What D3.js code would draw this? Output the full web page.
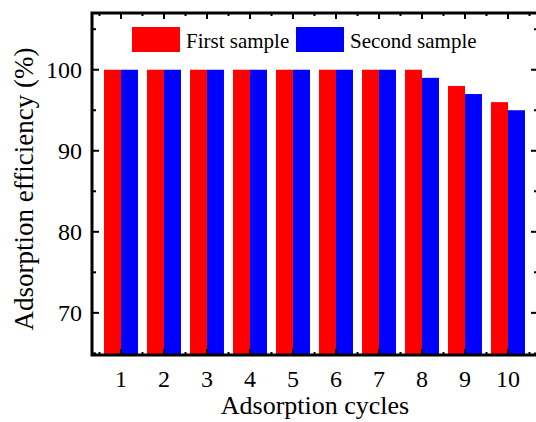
<!DOCTYPE html>
<html lang="en">
<head>
  <meta charset="UTF-8">
  <title>Adsorption cycles</title>
  <style>
    body { margin: 0; background: #fff; }
    svg { display: block; font-family: "Liberation Serif", "Times New Roman", serif; }
  </style>
</head>
<body>
  <div id="chart"></div>
  <script src="https://d3js.org/d3.v7.min.js"></script>
  <script>
    // data
    const cycles = ["1", "2", "3", "4", "5", "6", "7", "8", "9", "10"];
    const firstSample = [100, 100, 100, 100, 100, 100, 100, 100, 98, 96];
    const secondSample = [100, 100, 100, 100, 100, 100, 100, 99, 97, 95];
    const seriesNames = ["First sample", "Second sample"];
    const seriesColors = ["#ff0000", "#0000ff"];
    const yTicks = [70, 80, 90, 100];
    const yMinorTicks = [65, 75, 85, 95, 105];

    const width = 536, height = 422;
    const plotL = 92, plotR = 538, plotT = 13, plotB = 355;

    const svg = d3.select("#chart").append("svg")
      .attr("width", width)
      .attr("height", height);

    const x = d3.scaleBand()
      .domain(cycles)
      .range([99.5, 529.5])
      .paddingInner(0.21)
      .paddingOuter(0.105);

    const xSub = d3.scaleBand()
      .domain([0, 1])
      .range([0, x.bandwidth()]);

    const y = d3.scaleLinear()
      .domain([64.8, 107])
      .range([plotB, plotT]);

    // bars
    const groups = svg.selectAll(".group")
      .data(cycles)
      .enter()
      .append("g")
      .attr("transform", d => `translate(${x(d)},0)`);

    groups.each(function(c, i) {
      const vals = [firstSample[i], secondSample[i]];
      d3.select(this).selectAll("rect")
        .data(vals)
        .enter()
        .append("rect")
        .attr("x", (v, j) => xSub(j))
        .attr("width", xSub.bandwidth())
        .attr("y", v => y(v))
        .attr("height", v => y(64.8) - y(v))
        .attr("fill", (v, j) => seriesColors[j]);
    });

    // ticks
    const step = x.step();
    const centers = cycles.map(c => x(c) + x.bandwidth() / 2);
    const bounds = cycles.map(c => x(c) + x.bandwidth() / 2 - step / 2)
      .concat([x(cycles[cycles.length - 1]) + x.bandwidth() / 2 + step / 2]);

    const tk = svg.append("g").attr("stroke", "#000");
    centers.forEach(cx => {
      tk.append("line").attr("x1", cx).attr("x2", cx).attr("y1", plotB).attr("y2", plotB - 6).attr("stroke-width", 2);
      tk.append("line").attr("x1", cx).attr("x2", cx).attr("y1", plotT).attr("y2", plotT + 6).attr("stroke-width", 2);
    });
    bounds.forEach(bx => {
      tk.append("line").attr("x1", bx).attr("x2", bx).attr("y1", plotB).attr("y2", plotB - 3).attr("stroke-width", 2);
      tk.append("line").attr("x1", bx).attr("x2", bx).attr("y1", plotT).attr("y2", plotT + 3).attr("stroke-width", 2);
    });
    yTicks.forEach(v => {
      tk.append("line").attr("x1", plotL).attr("x2", plotL + 7).attr("y1", y(v)).attr("y2", y(v)).attr("stroke-width", 2);
      tk.append("line").attr("x1", plotR).attr("x2", plotR - 7).attr("y1", y(v)).attr("y2", y(v)).attr("stroke-width", 2);
    });
    yMinorTicks.forEach(v => {
      tk.append("line").attr("x1", plotL).attr("x2", plotL + 4).attr("y1", y(v)).attr("y2", y(v)).attr("stroke-width", 2);
      tk.append("line").attr("x1", plotR).attr("x2", plotR - 4).attr("y1", y(v)).attr("y2", y(v)).attr("stroke-width", 2);
    });

    // frame
    svg.append("rect")
      .attr("x", plotL).attr("y", plotT)
      .attr("width", plotR - plotL).attr("height", plotB - plotT)
      .attr("fill", "none").attr("stroke", "#000").attr("stroke-width", 3);

    // tick labels
    svg.append("g").selectAll("text")
      .data(yTicks)
      .enter()
      .append("text")
      .attr("x", plotL - 10)
      .attr("y", d => y(d))
      .attr("dy", "0.34em")
      .attr("text-anchor", "end")
      .attr("font-size", 24)
      .text(d => d);

    svg.append("g").selectAll("text")
      .data(cycles)
      .enter()
      .append("text")
      .attr("x", d => x(d) + x.bandwidth() / 2)
      .attr("y", plotB + 32)
      .attr("text-anchor", "middle")
      .attr("font-size", 24)
      .text(d => d);

    // axis titles
    svg.append("text")
      .attr("x", 315)
      .attr("y", 414)
      .attr("text-anchor", "middle")
      .attr("font-size", 26)
      .text("Adsorption cycles");

    svg.append("text")
      .attr("transform", "translate(33,189) rotate(-90)")
      .attr("text-anchor", "middle")
      .attr("font-size", 27)
      .text("Adsorption efficiency (%)");

    // legend
    const legendX = [132, 296];
    seriesNames.forEach((name, i) => {
      svg.append("rect")
        .attr("x", legendX[i]).attr("y", 27)
        .attr("width", 48).attr("height", 25)
        .attr("fill", seriesColors[i]);
      svg.append("text")
        .attr("x", legendX[i] + 54).attr("y", 48)
        .attr("font-size", 21)
        .text(name);
    });
  </script>
</body>
</html>
